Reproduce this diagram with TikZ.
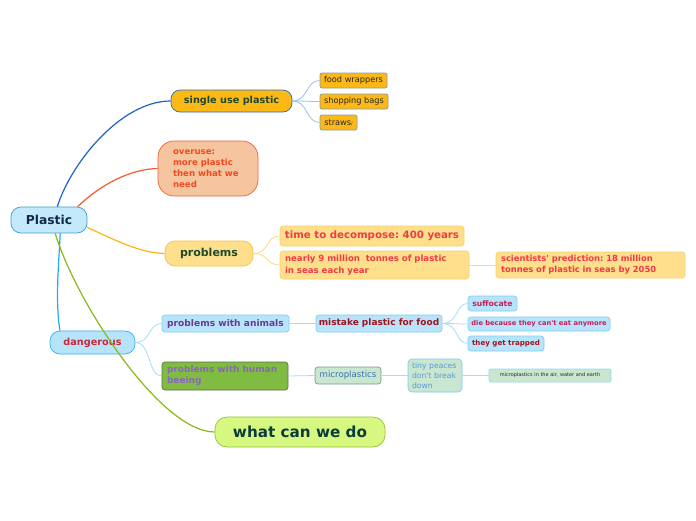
\documentclass[tikz,border=0pt]{standalone}
\usepackage{fontspec}
\setmainfont{DejaVu Sans}[Ligatures=TeXOff]
\newcommand\fsz[2]{\fontsize{#1}{#2}\selectfont}
\definecolor{rootfill}{HTML}{C3E9FB}
\definecolor{rootdraw}{HTML}{3A9FD6}
\definecolor{roottext}{HTML}{14284B}
\definecolor{orfill}{HTML}{FCB814}
\definecolor{sudraw}{HTML}{2A6AC8}
\definecolor{dgreen}{HTML}{1D4A2E}
\definecolor{leafdraw}{HTML}{8A9AA8}
\definecolor{ovfill}{HTML}{F5C5A0}
\definecolor{ovdraw}{HTML}{F2603A}
\definecolor{ovtext}{HTML}{F24A20}
\definecolor{prfill}{HTML}{FEDF8C}
\definecolor{prdraw}{HTML}{F8C040}
\definecolor{prsubdraw}{HTML}{F8D070}
\definecolor{prtext}{HTML}{F03A48}
\definecolor{dgfill}{HTML}{B8E4FB}
\definecolor{dgdraw}{HTML}{38B0E8}
\definecolor{dgtext}{HTML}{C82838}
\definecolor{ltblue}{HTML}{7ACFF0}
\definecolor{purp}{HTML}{6A3A90}
\definecolor{darkred}{HTML}{A0141E}
\definecolor{pinkred}{HTML}{C81E5A}
\definecolor{hufill}{HTML}{80BB42}
\definecolor{hudraw}{HTML}{5A7050}
\definecolor{hutext}{HTML}{8868B8}
\definecolor{mifill}{HTML}{C8E6D0}
\definecolor{midraw}{HTML}{7A9A88}
\definecolor{mitext}{HTML}{3A70B0}
\definecolor{titext}{HTML}{5A9AD6}
\definecolor{wfill}{HTML}{D6F880}
\definecolor{wdraw}{HTML}{98C030}
\definecolor{wtext}{HTML}{0B3B3B}
\definecolor{cblue}{HTML}{1A62D0}
\definecolor{corange}{HTML}{F25A30}
\definecolor{cyellow}{HTML}{FBB715}
\definecolor{csky}{HTML}{22AAEE}
\definecolor{cgreen}{HTML}{8AB818}
\definecolor{lleaf}{HTML}{9AC0F0}
\definecolor{lprob}{HTML}{FDD88A}
\definecolor{ldang}{HTML}{A8DCF5}
\tikzset{
  box/.style={draw, inner sep=0pt, line width=0.7pt, align=center},
  mainline/.style={line width=1.2pt},
  subline/.style={line width=0.8pt},
}
\begin{document}
\frenchspacing
\begin{tikzpicture}[x=1pt,y=-1pt]
\useasboundingbox[fill=white] (0,0) rectangle (696,520);

% nodes
\node[box, rounded corners=10pt, fill=rootfill, draw=rootdraw, text=roottext,
  minimum width=76pt, minimum height=26pt, font=\bfseries\fsz{12.3}{14}] (root) at (49,220) {Plastic};

\node[box, rounded corners=9pt, fill=orfill, draw=sudraw, text=dgreen,
  minimum width=121pt, minimum height=22pt, font=\bfseries\fsz{9.7}{12}] (single) at (231.5,101) {single use plastic};
\node[box, rounded corners=2pt, fill=orfill, draw=leafdraw, text=black!85,
  minimum width=67pt, minimum height=15pt, font=\fsz{8.2}{10}] (food) at (353.5,80.5) {food wrappers};
\node[box, rounded corners=2pt, fill=orfill, draw=leafdraw, text=black!85,
  minimum width=68pt, minimum height=15pt, font=\fsz{8.2}{10}] (bags) at (354,101.5) {shopping bags};
\node[box, rounded corners=2pt, fill=orfill, draw=leafdraw, text=black!85,
  minimum width=37pt, minimum height=15pt, font=\fsz{8.2}{10}] (straws) at (338.5,122.5) {straws{\fsz{4.5}{5}/}};

\node[box, rounded corners=16pt, fill=ovfill, draw=ovdraw, text=ovtext, align=left,
  text width=70pt, inner xsep=15pt, minimum height=55pt, font=\bfseries\fsz{8.6}{11}] (over) at (208,168.5)
  {overuse:\\more plastic\\then what we\\need};

\node[box, rounded corners=10pt, fill=prfill, draw=prdraw, text=dgreen,
  minimum width=88pt, minimum height=25pt, font=\bfseries\fsz{11}{13}] (prob) at (209,253.5) {problems};
\node[box, rounded corners=3pt, fill=prfill, draw=prsubdraw, text=prtext,
  minimum width=184pt, minimum height=20pt, font=\bfseries\fsz{10.2}{12}] (time) at (372,236) {time to decompose: 400 years};
\node[box, rounded corners=3pt, fill=prfill, draw=prsubdraw, text=prtext, align=left,
  text width=179pt, inner xsep=5pt, minimum height=28pt, font=\bfseries\fsz{8.6}{11.5}] (nearly) at (374.5,265)
  {nearly 9 million\ \ tonnes of plastic\\in seas each year};
\node[box, rounded corners=3pt, fill=prfill, draw=prsubdraw, text=prtext, align=left,
  text width=179pt, inner xsep=5pt, minimum height=26pt, font=\bfseries\fsz{8.4}{11}] (sci) at (590.5,265)
  {scientists' prediction: 18 million\\tonnes of plastic in seas by 2050};

\node[box, rounded corners=10pt, fill=dgfill, draw=dgdraw, text=dgtext,
  minimum width=85pt, minimum height=23pt, font=\bfseries\fsz{9.7}{12}] (dang) at (92.5,342.5) {dangerous};
\node[box, rounded corners=3pt, fill=dgfill, draw=ltblue, text=purp,
  minimum width=127pt, minimum height=17pt, font=\bfseries\fsz{9.1}{11}] (animals) at (225.5,323.5) {problems with animals};
\node[box, rounded corners=3pt, fill=hufill, draw=hudraw, text=hutext, align=left,
  text width=116pt, inner xsep=5pt, minimum height=28pt, font=\bfseries\fsz{9}{11}] (human) at (225,376)
  {problems with human\\beeing};
\node[box, rounded corners=3pt, fill=dgfill, draw=ltblue, text=darkred,
  minimum width=126pt, minimum height=17pt, font=\bfseries\fsz{9}{11}] (mistake) at (379,323.5) {mistake plastic for food};
\node[box, rounded corners=3pt, fill=dgfill, draw=ltblue, text=pinkred,
  minimum width=49pt, minimum height=15pt, font=\bfseries\fsz{7.7}{9}] (suff) at (492.5,303.5) {suffocate};
\node[box, rounded corners=3pt, fill=dgfill, draw=ltblue, text=pinkred,
  minimum width=142pt, minimum height=14pt, font=\bfseries\fsz{6.7}{8}] (die) at (539,324) {die because they can't eat anymore};
\node[box, rounded corners=3pt, fill=dgfill, draw=ltblue, text=darkred,
  minimum width=76pt, minimum height=15pt, font=\bfseries\fsz{7.1}{9}] (trap) at (506,343.5) {they get trapped};
\node[box, rounded corners=3pt, fill=mifill, draw=midraw, text=mitext,
  minimum width=66pt, minimum height=17pt, font=\fsz{8.6}{10}] (micro) at (348,375.5) {microplastics};
\node[box, rounded corners=4pt, fill=mifill, draw=ltblue, text=titext, align=left,
  text width=46pt, inner xsep=4pt, minimum height=33pt, font=\fsz{7.7}{10}] (tiny) at (435,375.5)
  {tiny peaces\\don't break\\down};
\node[box, rounded corners=2pt, fill=mifill, draw=ltblue!80, text=black!85,
  minimum width=122pt, minimum height=13pt, font=\fsz{5}{6}] (air) at (550,375.5) {microplastics in the air, water and earth};

\node[box, rounded corners=12pt, fill=wfill, draw=wdraw, text=wtext,
  minimum width=170pt, minimum height=30pt, font=\bfseries\fsz{15.2}{17}] (what) at (300,432) {what can we do};

% main connectors
\draw[mainline, cblue] (root.58) .. controls (70,165) and (120,101) .. (single.west);
\draw[mainline, corange] (root.25) .. controls (100,185) and (130,169) .. (over.west);
\draw[mainline, cyellow] (root.-11) .. controls (115,240) and (140,253) .. (prob.west);
\draw[mainline, csky] (root.-50) .. controls (59,262) and (55,300) .. (dang.160);
\draw[mainline, cgreen] (root.-65) .. controls (75,300) and (160,432) .. (what.west);

% sub connectors
\foreach \t in {food,bags,straws}
  \draw[subline, lleaf] (single.east) .. controls +(16,0) and +(-14,0) .. (\t.west);
\foreach \t in {time,nearly}
  \draw[subline, lprob] (prob.east) .. controls +(16,0) and +(-14,0) .. (\t.west);
\draw[subline, lprob] (nearly.east) -- (sci.west);
\foreach \t in {animals,human}
  \draw[subline, ldang] (dang.east) .. controls +(16,0) and +(-14,0) .. (\t.west);
\draw[subline, ldang] (animals.east) -- (mistake.west);
\foreach \t in {suff,die,trap}
  \draw[subline, ldang] (mistake.east) .. controls +(16,0) and +(-12,0) .. (\t.west);
\draw[subline, ldang] (human.east) -- (micro.west);
\draw[subline, ldang] (micro.east) -- (tiny.west);
\draw[subline, ldang] (tiny.east) -- (air.west);
\end{tikzpicture}
\end{document}
